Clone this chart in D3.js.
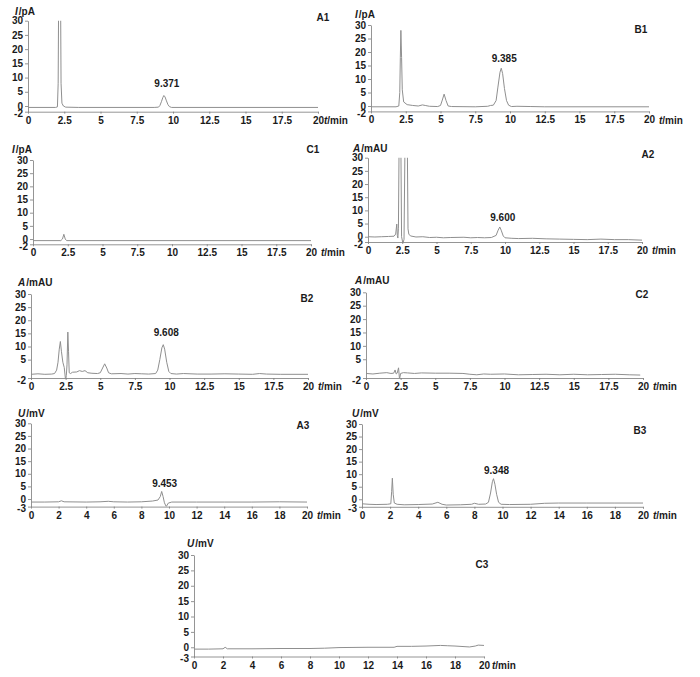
<!DOCTYPE html>
<html>
<head>
<meta charset="utf-8">
<script src="https://cdn.jsdelivr.net/npm/d3@7"></script>
<style>
  body { margin: 0; background: #fff; }
  svg { display: block; }
  text { font-family: "Liberation Sans", Arial, sans-serif; font-weight: bold; fill: #1a1a1a; }
</style>
</head>
<body>
<svg width="700" height="677"></svg>
<script>
// tick values
var xTicksHalf = [0, 2.5, 5, 7.5, 10, 12.5, 15, 17.5, 20];
var xTicksTwo = [0, 2, 4, 6, 8, 10, 12, 14, 16, 18, 20];
var yTicksTwo = [-2, 0, 5, 10, 15, 20, 25, 30];
var yTicksTwoNoZero = [-2, 5, 10, 15, 20, 25, 30];
var yTicksThree = [-3, 0, 5, 10, 15, 20, 25, 30];

// chromatograms, [t/min, signal]
var traceA1 = [[0,-0.5],[1.9,-0.5],[2.03,-0.3],[2.08,8],[2.11,35],[2.25,35],[2.28,8],[2.34,1],[2.44,0],[2.6,-0.4],[3.5,-0.5],
  [8.7,-0.5],[9.0,-0.4],[9.1,0.2],[9.2,1.5],[9.3,3.0],[9.37,3.7],[9.45,3.2],[9.55,1.8],[9.65,0.5],[9.75,-0.2],[9.9,-0.5],[20,-0.5]];
var traceB1 = [[0,-0.3],[1.8,-0.3],[2.0,0],[2.07,5],[2.11,18],[2.15,28],[2.2,18],[2.25,6],[2.35,1.5],[2.6,0.5],[3.0,0.2],[3.4,0],
  [3.7,0.4],[3.9,0.2],[4.2,-0.1],[4.8,-0.2],[5.0,0.2],[5.13,2.2],[5.26,4.4],[5.4,2],[5.55,0],[5.8,-0.2],[7.5,-0.3],[8.4,-0.1],
  [8.6,0.2],[8.8,0.3],[9.0,2],[9.13,7],[9.28,12.5],[9.37,14],[9.47,12],[9.6,6.5],[9.75,2],[9.9,0.3],[10.1,-0.2],[10.5,-0.1],
  [11.5,-0.2],[12.5,-0.3],[20,-0.3]];
var traceC1 = [[0,-0.6],[2.0,-0.6],[2.12,0],[2.22,1.8],[2.32,0],[2.42,-0.6],[20,-0.6]];
var traceA2 = [[0,0],[0.5,-0.1],[1.0,0],[1.5,0.1],[1.9,0.2],[2.02,1],[2.1,4.8],[2.14,0.5],[2.18,-0.5],[2.22,3],[2.27,35],
  [2.4,35],[2.45,0],[2.55,-2.5],[2.63,-1],[2.7,35],[2.87,35],[2.92,3],[2.98,1],[3.1,0.3],[3.5,-0.1],[4,0],[4.5,-0.3],[5,-0.2],
  [5.5,-0.4],[6,-0.3],[7,-0.2],[7.5,-0.4],[8,-0.3],[8.5,-0.4],[9.0,-0.3],[9.35,0.5],[9.5,2.5],[9.62,3.7],[9.72,2.5],[9.87,0.3],
  [10.0,-0.4],[10.5,-0.6],[11,-0.7],[12,-0.6],[13,-0.8],[14,-0.9],[15,-1.0],[16,-1.1],[17,-0.9],[18,-1.1],[19,-1.1],[20,-1.3]];
var traceB2 = [[0,-0.6],[0.5,-0.4],[1.0,-0.6],[1.5,-0.5],[1.7,-0.3],[1.85,1],[1.95,4],[2.04,9],[2.12,11.9],[2.2,8],[2.3,4],
  [2.4,2],[2.45,-0.5],[2.5,-3],[2.55,-1],[2.6,3],[2.66,15.5],[2.71,8],[2.76,0],[2.85,-0.3],[3.0,0.2],[3.3,0.3],[3.5,0.8],
  [3.7,0.5],[3.9,0.8],[4.1,0],[4.4,-0.2],[4.8,-0.3],[5.0,0],[5.17,1.8],[5.32,3.4],[5.47,1.8],[5.6,0],[5.8,-0.4],[6.5,-0.3],
  [7.0,-0.5],[7.5,-0.3],[8.0,-0.4],[8.5,-0.5],[9.0,-0.3],[9.15,1],[9.3,5],[9.45,9.5],[9.55,10.7],[9.65,9],[9.8,4],[9.95,0.5],
  [10.1,-0.3],[10.5,-0.5],[11,-0.3],[12,-0.5],[13,-0.5],[14,-0.4],[15,-0.5],[16,-0.6],[16.5,-0.3],[17,-0.5],[18,-0.6],[20,-0.6]];
var traceC2 = [[0,-0.3],[0.5,-0.5],[1.0,-0.2],[1.5,0],[1.8,-0.3],[2.0,-0.2],[2.1,1],[2.18,-0.5],[2.25,-0.2],[2.35,1.8],
  [2.42,-2.5],[2.5,-0.3],[2.7,0],[3.0,-0.1],[3.5,-0.3],[4.0,-0.1],[5,-0.2],[6,-0.2],[7,-0.3],[7.5,-0.6],[8,-0.8],[8.5,-0.5],
  [9,-0.6],[10,-0.5],[11,-0.8],[12,-0.7],[13,-0.6],[14,-0.8],[15,-0.6],[16,-0.8],[17,-0.7],[18,-0.6],[19,-0.8],[19.8,-0.9]];
var traceA3 = [[0,-1.2],[1,-1.2],[2.0,-1.1],[2.2,-0.7],[2.4,-1.1],[4,-1.2],[5,-1.1],[5.6,-0.9],[6,-1.1],[7,-1.2],[8,-1.1],
  [8.8,-0.8],[9.2,-0.4],[9.37,1],[9.47,3],[9.57,1],[9.67,-1.5],[9.8,-3],[9.95,-1.6],[10.2,-1.2],[12,-1.2],[14,-1.2],
  [16,-1.2],[18,-1.1],[20,-1.2]];
var traceB3 = [[0,-1.8],[0.5,-2],[1,-2.1],[1.8,-2.0],[2.05,-1.8],[2.11,3],[2.16,8.4],[2.22,2],[2.3,-1.5],[2.5,-2],[3,-2.2],
  [4,-2.1],[5,-1.9],[5.4,-1.2],[5.7,-2],[6,-2.3],[7,-2.2],[7.8,-2.0],[8,-1.6],[8.3,-2.0],[8.8,-1.9],[9.0,-1.2],[9.15,2.5],
  [9.28,7],[9.36,8.2],[9.46,6],[9.58,2],[9.72,-1.2],[9.9,-2],[10.5,-2.1],[12,-2],[13,-1.6],[14,-1.5],[16,-1.5],[18,-1.5],[20,-1.5]];
var traceC3 = [[0,-0.6],[1,-0.6],[2,-0.5],[2.15,0],[2.3,-0.5],[4,-0.5],[6,-0.4],[8,-0.4],[9,-0.3],[10,-0.1],[12,0],
  [13.8,0],[14,0.3],[15,0.3],[16,0.4],[17,0.6],[17.5,0.5],[18,0.4],[19,0.1],[19.4,0.4],[19.6,0.7],[20,0.6]];

var panelNames = ["A1", "B1", "C1", "A2", "B2", "C2", "A3", "B3", "C3"];
var panelTraces = [traceA1, traceB1, traceC1, traceA2, traceB2, traceC2, traceA3, traceB3, traceC3];
var panelUnits = [["I", "/pA"], ["I", "/pA"], ["I", "/pA"], ["A", "/mAU"], ["A", "/mAU"], ["A", "/mAU"],
                  ["U", "/mV"], ["U", "/mV"], ["U", "/mV"]];
var panelXTicks = [xTicksHalf, xTicksHalf, xTicksHalf, xTicksHalf, xTicksHalf, xTicksHalf, xTicksTwo, xTicksTwo, xTicksTwo];
var panelYTicks = [yTicksTwo, yTicksTwo, yTicksTwo, yTicksTwo, yTicksTwoNoZero, yTicksTwoNoZero, yTicksThree, yTicksThree, yTicksThree];

// retention time labels
var peakPanels = ["A1", "B1", "A2", "B2", "A3", "B3"];
var peakTimes = [9.371, 9.385, 9.600, 9.608, 9.453, 9.348];
var peakPlotT = [9.37, 9.37, 9.62, 9.55, 9.47, 9.36];
var peakTops = [3.7, 14, 3.7, 10.7, 3, 8.2];

// pixel boxes: x0/x1 = t 0..20, yT = 30, yB = axis minimum
var layout = {
    A1: {x0: 28, x1: 318, yT: 20.7, yB: 111.7, tx: 323, ty: 17, ux: 15, uy: 11, xl: 6, pdy: -8},
    B1: {x0: 371, x1: 649, yT: 25, yB: 111.4, tx: 641, ty: 29, ux: 355, uy: 14, xl: 10, pdy: -6},
    C1: {x0: 33, x1: 311, yT: 160, yB: 244.3, tx: 313, ty: 149, ux: 12, uy: 149, xl: 10, pdy: -6},
    A2: {x0: 368, x1: 642, yT: 157.7, yB: 242, tx: 648, ty: 154, ux: 353, uy: 148, xl: 10, pdy: -6},
    B2: {x0: 31, x1: 308, yT: 294, yB: 378, tx: 307, ty: 298, ux: 18, uy: 282, xl: 10, pdy: -9},
    C2: {x0: 366, x1: 643, yT: 292.3, yB: 378, tx: 642, ty: 294, ux: 355, uy: 280, xl: 10, pdy: -6},
    A3: {x0: 31, x1: 307, yT: 423.3, yB: 506.6, tx: 303, ty: 425, ux: 18, uy: 413, xl: 10, pdy: -4},
    B3: {x0: 362, x1: 643, yT: 424, yB: 506.8, tx: 640, ty: 430, ux: 352, uy: 413, xl: 10, pdy: -5},
    C3: {x0: 194, x1: 484, yT: 555, yB: 656.5, tx: 482, ty: 564, ux: 187, uy: 543, xl: 8, pdy: -6}
};

var svg = d3.select("svg");
var lineColor = "#8f8f8f";
var axisColor = "#7a7a7a";

function drawPanel(i) {
    var name = panelNames[i];
    var box = layout[name];
    var yTicks = panelYTicks[i];
    var yMin = d3.min(yTicks);
    var x = d3.scaleLinear().domain([0, 20]).range([box.x0, box.x1]);
    var y = d3.scaleLinear().domain([yMin, 30]).range([box.yB, box.yT]);
    var g = svg.append("g").attr("class", "panel-" + name);

    g.append("clipPath").attr("id", "clip-" + name)
        .append("rect")
        .attr("x", box.x0).attr("y", box.yT)
        .attr("width", box.x1 - box.x0).attr("height", box.yB - box.yT);

    var xAxis = g.append("g")
        .attr("transform", "translate(0," + box.yB + ")")
        .call(d3.axisBottom(x).tickValues(panelXTicks[i]).tickSize(2).tickPadding(3).tickSizeOuter(0)
              .tickFormat(function(d) { return String(d); }));
    var yAxis = g.append("g")
        .attr("transform", "translate(" + box.x0 + ",0)")
        .call(d3.axisLeft(y).tickValues(yTicks).tickSize(3).tickPadding(2).tickSizeOuter(0)
              .tickFormat(function(d) { return String(d); }));

    [xAxis, yAxis].forEach(function(ax) {
        ax.selectAll("path, line").attr("stroke", axisColor).attr("stroke-width", 0.8);
        ax.selectAll("text").attr("font-size", 10).attr("font-family", null).attr("fill", "#1a1a1a");
    });
    // "0" and the minimum tick sit very close, as in the original figure
    yAxis.selectAll(".tick text").filter(function(d) { return d < 0; }).attr("dy", "0.5em");

    var line = d3.line()
        .x(function(d) { return x(d[0]); })
        .y(function(d) { return y(d[1]); });

    g.append("path")
        .datum(panelTraces[i])
        .attr("clip-path", "url(#clip-" + name + ")")
        .attr("fill", "none")
        .attr("stroke", lineColor)
        .attr("stroke-width", 1)
        .attr("d", line);

    // unit label, top left
    var unit = g.append("text")
        .attr("x", box.ux).attr("y", box.uy)
        .attr("dominant-baseline", "central")
        .attr("font-size", 10);
    unit.append("tspan").attr("font-style", "italic").text(panelUnits[i][0]);
    unit.append("tspan").attr("dx", 1).text(panelUnits[i][1]);

    // time label after the last tick
    var tl = g.append("text")
        .attr("x", box.x1 + box.xl).attr("y", box.yB + 5)
        .attr("dy", "0.71em")
        .attr("font-size", 10);
    tl.append("tspan").attr("font-style", "italic").text("t");
    tl.append("tspan").text("/min");

    g.append("text")
        .attr("x", box.tx).attr("y", box.ty)
        .attr("text-anchor", "middle")
        .attr("dominant-baseline", "central")
        .attr("font-size", 10)
        .text(name);

    var k = peakPanels.indexOf(name);
    if (k >= 0) {
        g.append("text")
            .attr("x", x(peakPlotT[k]) + 3)
            .attr("y", y(peakTops[k]) + box.pdy)
            .attr("text-anchor", "middle")
            .attr("font-size", 10)
            .text(peakTimes[k].toFixed(3));
    }
}

panelNames.forEach(function(n, i) { drawPanel(i); });
</script>
</body>
</html>
